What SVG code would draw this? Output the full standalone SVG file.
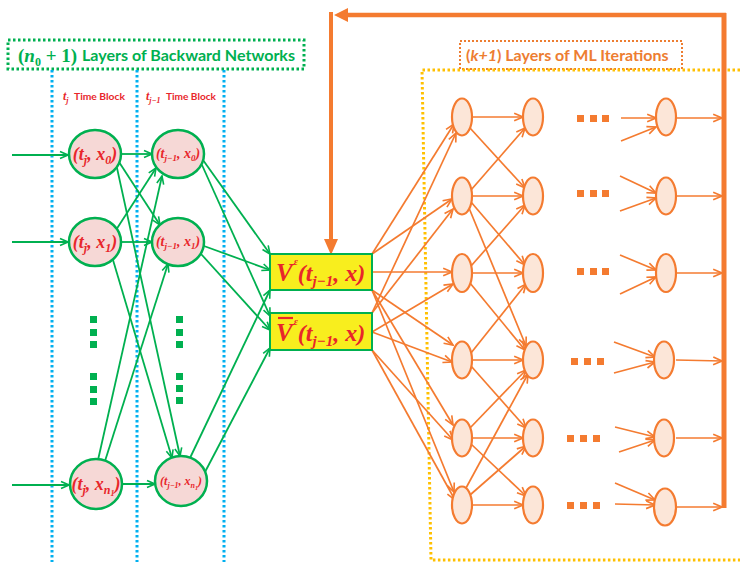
<svg xmlns="http://www.w3.org/2000/svg" width="740" height="565" viewBox="0 0 740 565">
<style>
.gl{stroke:#00b050;stroke-width:1.8;fill:none;marker-end:url(#ga)}
.ol{stroke:#f47b30;stroke-width:1.7;fill:none;marker-end:url(#oa)}
.gn{fill:#f6d8d6;stroke:#00b050;stroke-width:2.5}
.on{fill:#fce6d8;stroke:#f47b30;stroke-width:2.2}
.box{fill:#f8ee1e;stroke:#00b050;stroke-width:2}
.m{font-family:"Liberation Serif","DejaVu Serif",serif;font-weight:bold;font-style:italic;fill:#e8262b}
.sg{fill:#00b050}
.so{fill:#f47b30}
.bl{stroke:#00b0f0;stroke-width:3;stroke-dasharray:2.5 2.5;fill:none}
.lbl{font-family:Lato,"Liberation Sans",sans-serif;font-weight:bold}
</style>
<defs>
<marker id="ga" viewBox="0 0 10 10" refX="9" refY="5" markerWidth="10" markerHeight="10" markerUnits="userSpaceOnUse" orient="auto"><path d="M1,1.5 L9,5 L1,8.5" fill="none" stroke="#00b050" stroke-width="1.6"/></marker>
<marker id="oa" viewBox="0 0 10 10" refX="9" refY="5" markerWidth="11" markerHeight="11" markerUnits="userSpaceOnUse" orient="auto"><path d="M1,1.5 L9,5 L1,8.5" fill="none" stroke="#f47b30" stroke-width="1.5"/></marker>
</defs>
<rect width="740" height="565" fill="#fff"/>

<g id="frames">
<rect x="8" y="40" width="296" height="29" fill="none" stroke="#00b050" stroke-width="3" stroke-dasharray="2.5 2.5"/>
<text x="18" y="62" class="m" style="fill:#00b050;font-style:normal" font-size="19">(<tspan font-style="italic">n</tspan><tspan dy="4" font-size="12">0</tspan><tspan dy="-4"> + 1)</tspan></text>
<text x="82" y="61" class="lbl" font-size="16" fill="#00b050" textLength="213" lengthAdjust="spacingAndGlyphs">Layers of Backward Networks</text>
<line x1="52" y1="70" x2="52" y2="562" class="bl"/>
<line x1="137" y1="70" x2="137" y2="562" class="bl"/>
<line x1="224" y1="70" x2="224" y2="562" class="bl"/>
<text x="63" y="100" class="m" font-size="12">t<tspan dy="3" font-size="8">j</tspan></text>
<text x="74" y="100" class="lbl" font-size="9.5" fill="#e8262b" textLength="51" lengthAdjust="spacingAndGlyphs">Time Block</text>
<text x="146" y="100" class="m" font-size="12">t<tspan dy="3" font-size="8">j−1</tspan></text>
<text x="166" y="100" class="lbl" font-size="9.5" fill="#e8262b" textLength="50" lengthAdjust="spacingAndGlyphs">Time Block</text>
<rect x="460" y="41" width="222" height="28" fill="none" stroke="#ed7d31" stroke-width="2" stroke-dasharray="2 2"/>
<text x="466" y="61" class="lbl" font-size="16" fill="#ed7d31">(<tspan font-style="italic">k+1</tspan>) Layers of ML Iterations</text>
<path d="M740,70 H422 L431,560 H740" fill="none" stroke="#ffc000" stroke-width="3" stroke-dasharray="2.5 2.5"/>
</g>

<g id="dots">
<rect x="90" y="316" width="7" height="7" class="sg"/><rect x="90" y="329" width="7" height="7" class="sg"/><rect x="90" y="341" width="7" height="7" class="sg"/>
<rect x="90" y="373" width="7" height="7" class="sg"/><rect x="90" y="386" width="7" height="7" class="sg"/><rect x="90" y="398" width="7" height="7" class="sg"/>
<rect x="176" y="316" width="7" height="7" class="sg"/><rect x="176" y="329" width="7" height="7" class="sg"/><rect x="176" y="341" width="7" height="7" class="sg"/>
<rect x="176" y="373" width="7" height="7" class="sg"/><rect x="176" y="385" width="7" height="7" class="sg"/><rect x="176" y="397" width="7" height="7" class="sg"/>
<rect x="577" y="115" width="7" height="7" class="so"/><rect x="590" y="115" width="7" height="7" class="so"/><rect x="602" y="115" width="7" height="7" class="so"/>
<rect x="577" y="190" width="7" height="7" class="so"/><rect x="590" y="190" width="7" height="7" class="so"/><rect x="602" y="190" width="7" height="7" class="so"/>
<rect x="577" y="268" width="7" height="7" class="so"/><rect x="590" y="268" width="7" height="7" class="so"/><rect x="602" y="268" width="7" height="7" class="so"/>
<rect x="571" y="358" width="7" height="7" class="so"/><rect x="584" y="358" width="7" height="7" class="so"/><rect x="597" y="358" width="7" height="7" class="so"/>
<rect x="567" y="435" width="7" height="7" class="so"/><rect x="580" y="435" width="7" height="7" class="so"/><rect x="593" y="435" width="7" height="7" class="so"/>
<rect x="567" y="502" width="7" height="7" class="so"/><rect x="580" y="502" width="7" height="7" class="so"/><rect x="593" y="502" width="7" height="7" class="so"/>
</g>

<g id="connectors">
<line x1="12" y1="155" x2="68" y2="155" class="gl"/>
<line x1="12" y1="242" x2="68" y2="242" class="gl"/>
<line x1="12" y1="485" x2="69" y2="485" class="gl"/>
<line x1="121" y1="154" x2="152" y2="154" class="gl"/>
<line x1="119" y1="162" x2="160" y2="225" class="gl"/>
<line x1="117" y1="168" x2="180" y2="456" class="gl"/>
<line x1="116" y1="230" x2="156" y2="168" class="gl"/>
<line x1="121" y1="242" x2="152" y2="242" class="gl"/>
<line x1="113" y1="260" x2="172" y2="458" class="gl"/>
<line x1="98" y1="460" x2="162" y2="176" class="gl"/>
<line x1="105" y1="461" x2="168" y2="264" class="gl"/>
<line x1="122" y1="484" x2="155" y2="484" class="gl"/>
<line x1="203" y1="160" x2="270" y2="254" class="gl"/>
<line x1="202" y1="165" x2="270" y2="316" class="gl"/>
<line x1="204" y1="246" x2="270" y2="270" class="gl"/>
<line x1="201" y1="254" x2="270" y2="330" class="gl"/>
<line x1="190" y1="458" x2="270" y2="290" class="gl"/>
<line x1="205" y1="472" x2="270" y2="348" class="gl"/>
<line x1="372" y1="254" x2="454" y2="124" class="ol"/>
<line x1="372" y1="254" x2="452" y2="199" class="ol"/>
<line x1="372" y1="272" x2="452" y2="272" class="ol"/>
<line x1="372" y1="290" x2="453" y2="345" class="ol"/>
<line x1="372" y1="290" x2="453" y2="425" class="ol"/>
<line x1="372" y1="290" x2="454" y2="492" class="ol"/>
<line x1="372" y1="313" x2="456" y2="133" class="ol"/>
<line x1="372" y1="313" x2="453" y2="209" class="ol"/>
<line x1="372" y1="332" x2="453" y2="284" class="ol"/>
<line x1="372" y1="332" x2="452" y2="362" class="ol"/>
<line x1="372" y1="350" x2="453" y2="440" class="ol"/>
<line x1="372" y1="350" x2="455" y2="500" class="ol"/>
<line x1="472" y1="117" x2="523" y2="117" class="ol"/>
<line x1="470" y1="128" x2="525" y2="188" class="ol"/>
<line x1="471" y1="190" x2="525" y2="128" class="ol"/>
<line x1="472" y1="196" x2="523" y2="196" class="ol"/>
<line x1="471" y1="202" x2="525" y2="265" class="ol"/>
<line x1="469" y1="208" x2="526" y2="346" class="ol"/>
<line x1="471" y1="266" x2="525" y2="205" class="ol"/>
<line x1="472" y1="273" x2="523" y2="273" class="ol"/>
<line x1="470" y1="283" x2="525" y2="350" class="ol"/>
<line x1="471" y1="353" x2="526" y2="284" class="ol"/>
<line x1="472" y1="360" x2="523" y2="360" class="ol"/>
<line x1="471" y1="366" x2="526" y2="428" class="ol"/>
<line x1="470" y1="428" x2="526" y2="370" class="ol"/>
<line x1="472" y1="438" x2="523" y2="438" class="ol"/>
<line x1="471" y1="444" x2="526" y2="496" class="ol"/>
<line x1="466" y1="488" x2="528" y2="374" class="ol"/>
<line x1="470" y1="495" x2="526" y2="446" class="ol"/>
<line x1="472" y1="505" x2="523" y2="505" class="ol"/>
<line x1="621" y1="118" x2="656" y2="118" class="ol"/>
<line x1="621" y1="141" x2="656" y2="127" class="ol"/>
<line x1="620" y1="176" x2="656" y2="193" class="ol"/>
<line x1="620" y1="211" x2="656" y2="198" class="ol"/>
<line x1="620" y1="255" x2="656" y2="270" class="ol"/>
<line x1="620" y1="294" x2="656" y2="277" class="ol"/>
<line x1="614" y1="342" x2="655" y2="357" class="ol"/>
<line x1="614" y1="373" x2="655" y2="362" class="ol"/>
<line x1="615" y1="427" x2="655" y2="437" class="ol"/>
<line x1="619" y1="452" x2="655" y2="440" class="ol"/>
<line x1="615" y1="483" x2="655" y2="500" class="ol"/>
<line x1="615" y1="504" x2="655" y2="505" class="ol"/>
<line x1="676" y1="118" x2="722" y2="118" class="ol"/>
<line x1="676" y1="196" x2="722" y2="196" class="ol"/>
<line x1="676" y1="273" x2="722" y2="273" class="ol"/>
<line x1="676" y1="360" x2="722" y2="361" class="ol"/>
<line x1="676" y1="438" x2="722" y2="438" class="ol"/>
<line x1="677" y1="507" x2="722" y2="507" class="ol"/>
<line x1="724" y1="508" x2="724" y2="13" stroke="#f47b30" stroke-width="5"/>
<line x1="726" y1="15" x2="344" y2="15" stroke="#f47b30" stroke-width="4.5"/>
<polygon points="334,15 348,8 348,22" fill="#f47b30"/>
<line x1="331" y1="12" x2="331" y2="242" stroke="#f47b30" stroke-width="4"/>
<polygon points="331,255 324,239 338,239" fill="#f47b30"/>
</g>

<g id="L1"><ellipse cx="95" cy="154" rx="26" ry="24" class="gn"/><text x="95" y="160" text-anchor="middle" class="m" font-size="18">(t<tspan dy="4" font-size="12">j</tspan><tspan dy="-4">, x</tspan><tspan dy="4" font-size="12">0</tspan><tspan dy="-4">)</tspan></text></g>
<g id="L2"><ellipse cx="95" cy="242" rx="26" ry="24" class="gn"/><text x="95" y="248" text-anchor="middle" class="m" font-size="18">(t<tspan dy="4" font-size="12">j</tspan><tspan dy="-4">, x</tspan><tspan dy="4" font-size="12">1</tspan><tspan dy="-4">)</tspan></text></g>
<g id="L3"><ellipse cx="96" cy="484" rx="26" ry="25" class="gn"/><text x="96" y="490" text-anchor="middle" class="m" font-size="18">(t<tspan dy="4" font-size="12">j</tspan><tspan dy="-4">, x</tspan><tspan dy="4" font-size="12">n</tspan><tspan dy="2" font-size="8">1</tspan><tspan dy="-6">)</tspan></text></g>
<g id="M1"><ellipse cx="178" cy="154" rx="26" ry="24" class="gn"/><text x="178" y="158" text-anchor="middle" class="m" font-size="14">(t<tspan dy="3" font-size="9">j−1</tspan><tspan dy="-3">, x</tspan><tspan dy="3" font-size="9">0</tspan><tspan dy="-3">)</tspan></text></g>
<g id="M2"><ellipse cx="178" cy="242" rx="26" ry="24" class="gn"/><text x="178" y="246" text-anchor="middle" class="m" font-size="14">(t<tspan dy="3" font-size="9">j−1</tspan><tspan dy="-3">, x</tspan><tspan dy="3" font-size="9">1</tspan><tspan dy="-3">)</tspan></text></g>
<g id="M3"><ellipse cx="181" cy="481" rx="26" ry="25" class="gn"/><text x="181" y="485" text-anchor="middle" class="m" font-size="12">(t<tspan dy="3" font-size="8">j−1</tspan><tspan dy="-3">, x</tspan><tspan dy="3" font-size="8">n</tspan><tspan dy="1.5" font-size="6">1</tspan><tspan dy="-4.5">)</tspan></text></g>

<g id="V"><rect x="270" y="254" width="102" height="36" class="box"/><text x="276" y="281" class="m" font-size="25">V<tspan dx="1" dy="-16" font-size="10">ε</tspan><tspan dy="16" font-size="24">(t</tspan><tspan dy="5" font-size="15">j−1</tspan><tspan dy="-5" font-size="24">, x)</tspan></text></g>
<g id="Vbar"><rect x="270" y="313" width="102" height="37" class="box"/><line x1="278" y1="318" x2="293" y2="318" stroke="#e8262b" stroke-width="2.2"/><text x="276" y="341" class="m" font-size="25">V<tspan dx="1" dy="-16" font-size="10">ε</tspan><tspan dy="16" font-size="24">(t</tspan><tspan dy="5" font-size="15">j−1</tspan><tspan dy="-5" font-size="24">, x)</tspan></text></g>

<g id="A1"><ellipse cx="462" cy="117" rx="10" ry="18.5" class="on"/></g>
<g id="A2"><ellipse cx="462" cy="196" rx="10" ry="18.5" class="on"/></g>
<g id="A3"><ellipse cx="462" cy="273" rx="10" ry="19" class="on"/></g>
<g id="A4"><ellipse cx="462" cy="360" rx="10" ry="18.5" class="on"/></g>
<g id="A5"><ellipse cx="462" cy="438" rx="10" ry="18.5" class="on"/></g>
<g id="A6"><ellipse cx="462" cy="505" rx="10" ry="18.5" class="on"/></g>
<g id="B1"><ellipse cx="533" cy="117" rx="10" ry="18.5" class="on"/></g>
<g id="B2"><ellipse cx="533" cy="196" rx="10" ry="18.5" class="on"/></g>
<g id="B3"><ellipse cx="533" cy="273" rx="10" ry="19" class="on"/></g>
<g id="B4"><ellipse cx="533" cy="360" rx="10" ry="18.5" class="on"/></g>
<g id="B5"><ellipse cx="533" cy="438" rx="10" ry="18.5" class="on"/></g>
<g id="B6"><ellipse cx="533" cy="505" rx="10" ry="18.5" class="on"/></g>
<g id="C1"><ellipse cx="666" cy="117" rx="10" ry="18.5" class="on"/></g>
<g id="C2"><ellipse cx="666" cy="196" rx="10" ry="18.5" class="on"/></g>
<g id="C3"><ellipse cx="666" cy="273" rx="10" ry="19" class="on"/></g>
<g id="C4"><ellipse cx="664" cy="360" rx="10" ry="18.5" class="on"/></g>
<g id="C5"><ellipse cx="664" cy="438" rx="10" ry="18.5" class="on"/></g>
<g id="C6"><ellipse cx="665" cy="507" rx="11" ry="18.5" class="on"/></g>
</svg>
